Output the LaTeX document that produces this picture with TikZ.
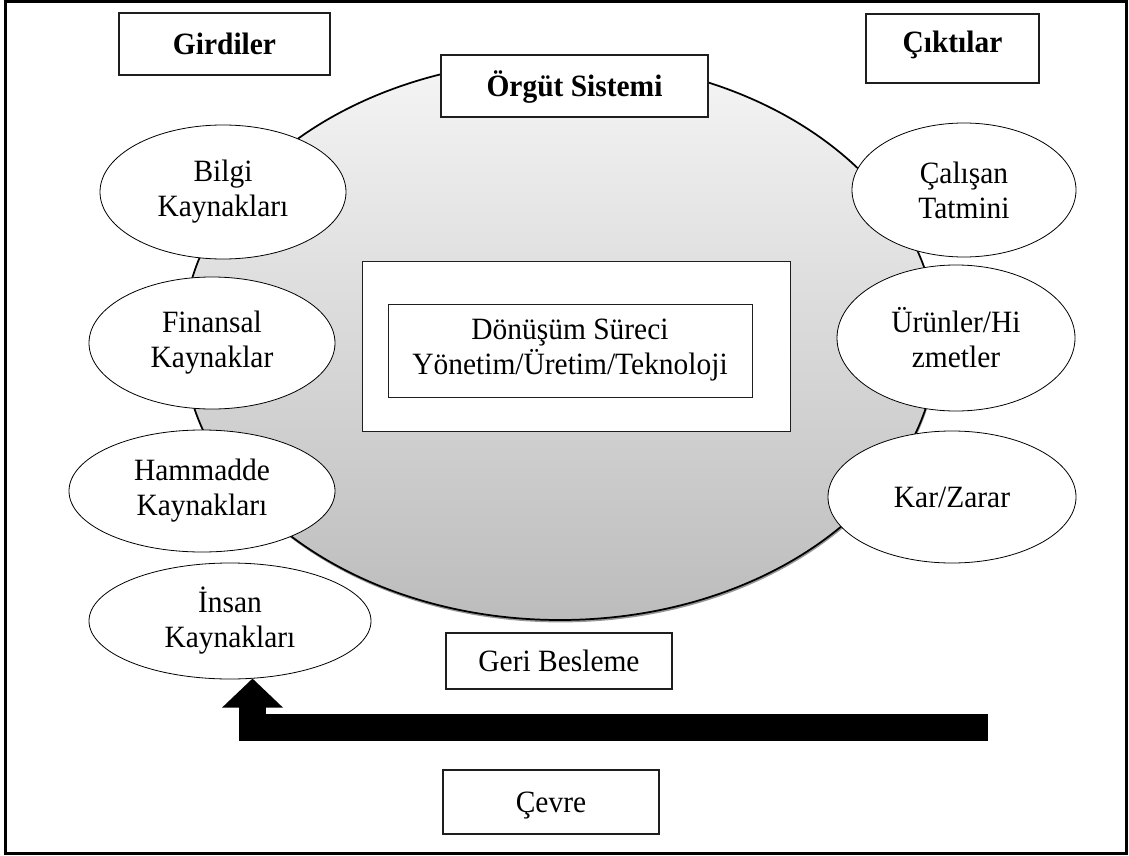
\documentclass[tikz,border=0pt]{standalone}
\usepackage{fontspec}
\setmainfont{Liberation Serif}[FakeStretch=0.95]
\usetikzlibrary{shapes.geometric,arrows.meta,shadows}
\definecolor{shadetop}{RGB}{245,245,245}
\definecolor{shadebot}{RGB}{188,188,188}
\definecolor{shadowgray}{RGB}{150,150,150}
\definecolor{edgegray}{RGB}{30,30,30}
\begin{document}
\begin{tikzpicture}[x=0.75pt,y=-0.75pt,
  every node/.style={font=\fontsize{23.25pt}{26.25pt}\selectfont},
  box/.style={draw=edgegray, line width=0.8pt, fill=white, rectangle, inner sep=0pt, text height=16pt, text depth=0pt},
  plainrect/.style={draw=edgegray, line width=0.7pt, fill=white, rectangle, inner sep=0pt},
  oval/.style={draw=black, line width=0.6pt, fill=white, ellipse, inner sep=0pt, align=center},
  system/.style={ellipse, draw=black, line width=1.3pt, top color=shadetop, bottom color=shadebot,
    drop shadow={shadow xshift=0.6pt, shadow yshift=-1.8pt, fill=shadowgray, opacity=1}},
  fb/.style={line width=20.25pt, line join=miter, black, -{Triangle[width=44.25pt,length=21.75pt]}}
]
\useasboundingbox (0,0) rectangle (1129,856);
\draw[line width=2.25pt, black] (5,2) rectangle (1126,853);

% organisation system circle
\node[system, minimum width=565.5pt, minimum height=420pt] (org) at (560,340) {};

% title boxes
\node[box, minimum width=158.25pt, minimum height=46.5pt] (girdi) at (224.5,44) {\bfseries Girdiler};
\node[box, minimum width=129.75pt, minimum height=51.75pt] (cikti) at (952.5,48.5) {\raisebox{4.9pt}[\height][\depth]{\bfseries Çıktılar}};
\node[box, minimum width=200.25pt, minimum height=46.5pt] (orgut) at (574.5,86) {\bfseries Örgüt Sistemi};

% transformation process
\node[plainrect, minimum width=321pt, minimum height=127.5pt] (proc) at (576,346) {};
\node[plainrect, minimum width=273pt, minimum height=69.75pt, align=center] (donusum) at (570,350.5) {Dönüşüm Süreci\\Yönetim/Üretim/Teknoloji};

% inputs
\node[oval, minimum width=184.5pt, minimum height=100.5pt] (bilgi) at (223,192) {Bilgi\\Kaynakları};
\node[oval, minimum width=184.5pt, minimum height=99pt] (finans) at (212,343) {Finansal\\Kaynaklar};
\node[oval, minimum width=199.5pt, minimum height=91.5pt] (hammadde) at (202,491) {Hammadde\\Kaynakları};
\node[oval, minimum width=211.5pt, minimum height=87pt] (insan) at (230,621) {İnsan\\Kaynakları};

% outputs
\node[oval, minimum width=168pt, minimum height=100.5pt] (calisan) at (964,190) {Çalışan\\Tatmini};
\node[oval, minimum width=178.5pt, minimum height=109.5pt] (urun) at (956,338) {Ürünler/Hi\\zmetler};
\node[oval, minimum width=186pt, minimum height=99pt] (kar) at (952,497) {Kar/Zarar};

% feedback and environment
\node[box, minimum width=169.5pt, minimum height=42pt] (geri) at (559,661) {Geri Besleme};
\node[box, minimum width=162pt, minimum height=48pt] (cevre) at (551,802) {Çevre};

\coordinate (fbstart) at (988,727.5);
\path (insan.center) ++(22.5,57.5) coordinate (fbtip);
\draw[fb] (fbstart) -| (fbtip);
\end{tikzpicture}
\end{document}
